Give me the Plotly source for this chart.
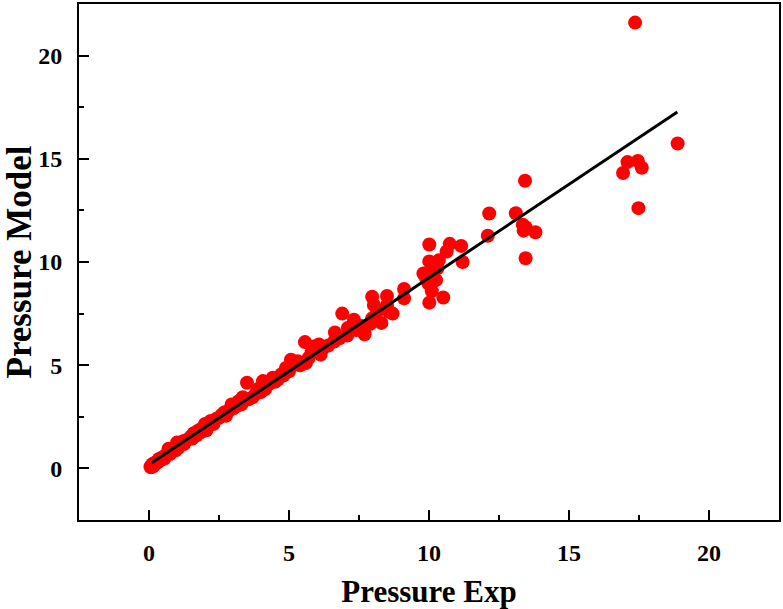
import plotly.graph_objects as go

pressure_exp = [
    0.05, 0.08, 0.10, 0.12, 0.15, 0.18, 0.20, 0.25, 0.30, 0.35, 0.40, 0.45, 0.50, 0.55,
    0.60, 0.65, 0.70, 0.75, 0.80, 0.85, 0.90, 0.95, 1.00, 1.05, 1.10, 1.20, 1.25, 1.30,
    1.40, 1.50, 1.55, 1.60, 1.70, 1.75, 1.85, 1.90, 2.00, 2.05, 2.15, 2.20, 2.30, 2.40,
    2.50, 2.60, 2.70, 2.75, 2.85, 2.95, 3.00, 3.10, 3.20, 3.30, 3.35, 3.50, 3.55, 3.70,
    3.80, 3.90, 4.00, 4.07, 4.15, 4.30, 4.42, 4.50, 4.60, 4.72, 4.80, 4.89, 5.00, 5.07,
    5.15, 5.31, 5.40, 5.60, 5.57, 5.70, 5.80, 5.90, 6.07, 6.13, 6.20, 6.40, 6.61, 6.64,
    6.80, 6.90, 7.08, 7.10, 7.32, 7.40, 7.60, 7.70, 7.90, 7.97, 7.97, 8.03, 8.15, 8.30,
    8.50, 8.50, 8.56, 8.70, 9.11, 9.11, 9.80, 9.90, 9.98, 10.01, 10.01, 10.01, 10.10, 10.15,
    10.25, 10.30, 10.35, 10.51, 10.63, 10.74, 11.15, 11.20,
    12.10, 12.15, 13.10, 13.35, 13.45, 13.38, 13.80, 13.45, 13.43,
    16.93, 17.09, 17.46, 17.60, 17.48, 17.36, 18.88,
]
pressure_model = [
    0.08, 0.05, 0.12, 0.20, 0.10, 0.25, 0.18, 0.30, 0.28, 0.45, 0.38, 0.50, 0.55, 0.48,
    0.62, 0.72, 0.95, 0.70, 0.85, 0.90, 0.98, 0.88, 1.25, 1.00, 1.15, 1.30, 1.18, 1.35,
    1.40, 1.55, 1.45, 1.70, 1.60, 1.83, 1.75, 1.95, 2.15, 1.85, 2.10, 2.30, 2.15, 2.40,
    2.45, 2.60, 2.72, 2.55, 2.80, 3.10, 2.90, 3.00, 3.25, 3.10, 3.45, 4.15, 3.35, 3.45,
    3.60, 3.85, 3.70, 4.23, 3.85, 4.10, 4.39, 4.20, 4.30, 4.55, 4.50, 4.87, 4.70, 5.27,
    5.00, 5.19, 5.00, 5.11, 6.12, 5.35, 5.60, 5.90, 6.00, 5.51, 5.80, 5.95, 6.15, 6.59,
    6.30, 7.50, 6.44, 6.80, 7.20, 6.70, 6.90, 6.50, 7.00, 7.27, 8.32, 7.92, 7.60, 7.05,
    8.35, 7.92, 7.60, 7.50, 8.69, 8.24, 9.44, 9.20, 8.96, 10.85, 10.03, 8.03, 8.59, 9.52,
    9.12, 9.70, 10.08, 8.28, 10.51, 10.88, 10.78, 10.00,
    11.27, 12.35, 12.36, 11.81, 11.68, 11.52, 11.44, 10.18, 13.94,
    14.31, 14.84, 14.89, 14.57, 12.61, 21.60, 15.74,
]

# Fitted line end points
fit_x = [0.10, 18.87]
fit_y = [0.27, 17.27]

axis_ticks = [0, 5, 10, 15, 20]

font_family = "Liberation Serif"

fig = go.Figure()
fig.add_trace(go.Scatter(
    x=pressure_exp, y=pressure_model, mode="markers",
    marker=dict(color="#ff0000", size=14, line=dict(width=0)),
    showlegend=False,
))
fig.add_trace(go.Scatter(
    x=fit_x, y=fit_y, mode="lines",
    line=dict(color="black", width=3),
    showlegend=False,
))

axis_common = dict(
    range=[-2.5, 22.5], autorange=False,
    tickvals=axis_ticks, ticktext=[str(t) for t in axis_ticks],
    showline=True, linecolor="black", linewidth=2, mirror=True,
    ticks="inside", ticklen=10, tickwidth=2, tickcolor="black",
    minor=dict(ticks="inside", ticklen=5, tickwidth=2, tickcolor="black", dtick=2.5, tick0=0, showgrid=False),
    showgrid=False, zeroline=False,
    tickfont=dict(family=font_family, size=24, color="black", weight="bold"),
)

fig.update_layout(
    width=783, height=609,
    margin=dict(l=78, r=2, t=2, b=89),
    paper_bgcolor="white", plot_bgcolor="white",
    xaxis=dict(
        **axis_common,
        ticklabelstandoff=10,
        title=dict(text="<b>Pressure Exp</b>", standoff=16,
                   font=dict(family=font_family, size=31, color="black")),
    ),
    yaxis=dict(
        **axis_common,
        ticklabelstandoff=10,
        title=dict(text="<b>Pressure Model</b>", standoff=12,
                   font=dict(family=font_family, size=35, color="black")),
    ),
)

fig.write_html("out.html")
